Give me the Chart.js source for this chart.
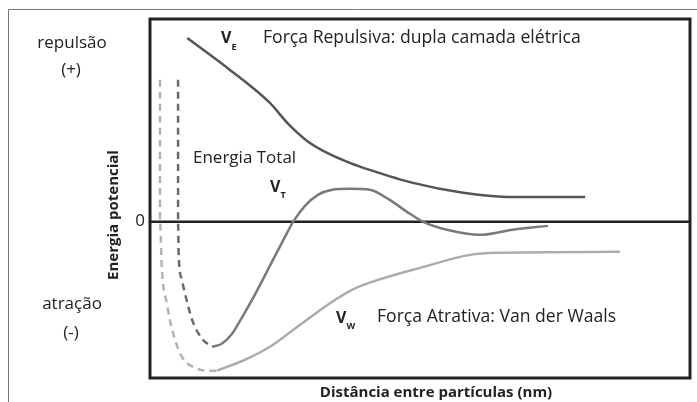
<!DOCTYPE html>
<html lang="pt">
<head>
    <meta charset="UTF-8">
    <script src="https://cdn.jsdelivr.net/npm/chart.js"></script>
    <title>Energia potencial</title>
    <style>
        body { margin: 0; background: #fff; }
        #wrap { width: 697px; height: 402px; }
    </style>
</head>
<body>
    <div id="wrap">
        <canvas id="chart" width="697" height="402"></canvas>
    </div>

    <script>
        // curve data (distance units 0-100, energy units -77..100)
        const veX = [6.9, 14.8, 22.2, 25.6, 29.1, 32.8, 37.0, 40.7, 48.7, 58.0, 66.1, 80.6];
        const veY = [90.6, 74.9, 58.6, 48.3, 39.9, 34.0, 29.1, 25.6, 19.2, 14.3, 12.3, 12.3];

        const vtX = [11.5, 13.3, 15.2, 17.0, 19.4, 22.2, 25.0, 26.5, 28.7, 31.1, 33.7, 37.0, 40.7, 44.4, 47.6, 50.6, 55.0, 61.1, 67.2, 73.7];
        const vtY = [-61.6, -60.1, -55.2, -47.3, -36.0, -21.7, -7.4, 0, 7.9, 13.3, 15.8, 16.3, 15.8, 10.8, 4.9, 0, -3.9, -6.4, -3.9, -2.0];

        const vwX = [12.4, 17.6, 22.2, 26.3, 31.1, 34.3, 37.4, 41.1, 50.0, 59.3, 64.3, 87.0];
        const vwY = [-73.4, -68.0, -61.6, -53.7, -44.3, -38.4, -33.5, -29.6, -22.7, -16.3, -15.3, -14.8];

        // dashed parts close to the particle surface
        const vtDashX = [5.2, 5.2, 5.3, 5.9, 6.9, 8.0, 9.8, 11.5];
        const vtDashY = [70.0, 0, -15.3, -28.6, -39.9, -49.8, -58.1, -61.6];

        const vwDashX = [1.85, 1.85, 2.2, 3.1, 4.1, 5.9, 8.3, 10.7, 12.4];
        const vwDashY = [70.0, 0, -23.6, -39.9, -53.2, -66.5, -71.9, -73.4, -73.4];

        const sideLabels = ["repulsão", "(+)", "atração", "(-)"];
        const zeroTick = "0";

        const toPoints = (xs, ys) => xs.map((x, i) => ({ x: x, y: ys[i] }));

        const FONT = "'Open Sans', sans-serif";

        // frame, zero line and texts
        const decor = {
            id: "decor",
            beforeDatasetsDraw(chart) {
                const ctx = chart.ctx;
                const a = chart.chartArea;
                const y0 = chart.scales.y.getPixelForValue(0);
                ctx.save();
                // outer thin frame
                ctx.strokeStyle = "#777";
                ctx.lineWidth = 1;
                ctx.beginPath();
                ctx.moveTo(8.5, 402);
                ctx.lineTo(8.5, 9.5);
                ctx.lineTo(697, 9.5);
                ctx.stroke();
                // zero line
                ctx.strokeStyle = "#222";
                ctx.lineWidth = 2.5;
                ctx.beginPath();
                ctx.moveTo(a.left, y0);
                ctx.lineTo(a.right, y0);
                ctx.stroke();
                ctx.restore();
            },
            afterDraw(chart) {
                const ctx = chart.ctx;
                const a = chart.chartArea;
                const y0 = chart.scales.y.getPixelForValue(0);
                ctx.save();
                // plot box
                ctx.strokeStyle = "#222";
                ctx.lineWidth = 3;
                ctx.strokeRect(a.left, a.top, a.right - a.left, a.bottom - a.top);

                ctx.fillStyle = "#222";
                ctx.textBaseline = "alphabetic";
                ctx.font = "17px " + FONT;
                ctx.textAlign = "center";
                ctx.fillText(sideLabels[0], 72, 48);
                ctx.fillText(sideLabels[1], 71, 75);
                ctx.fillText(sideLabels[2], 72, 309);
                ctx.fillText(sideLabels[3], 71, 338);

                ctx.textAlign = "right";
                ctx.textBaseline = "middle";
                ctx.fillText(zeroTick, 145, y0 - 1);

                ctx.textBaseline = "alphabetic";
                ctx.textAlign = "left";
                ctx.fillText("Energia Total", 193, 163);
                ctx.font = "17.6px " + FONT;
                ctx.fillText("Força Repulsiva: dupla camada elétrica", 263, 43);
                ctx.fillText("Força Atrativa: Van der Waals", 377, 322);

                // V labels with subscripts
                const vLabel = (x, y, sub, subY) => {
                    ctx.font = "bold 16px " + FONT;
                    ctx.fillText("V", x, y);
                    const w = ctx.measureText("V").width;
                    ctx.font = "bold 9px " + FONT;
                    ctx.fillText(sub, x + w, subY);
                };
                vLabel(221, 43, "E", 50);
                vLabel(270, 192, "T", 198);
                vLabel(336, 323, "W", 329);

                // axis titles
                ctx.font = "bold 15px " + FONT;
                ctx.textAlign = "center";
                ctx.fillText("Distância entre partículas (nm)", 436, 397);
                ctx.translate(114, 215);
                ctx.rotate(-Math.PI / 2);
                ctx.textBaseline = "middle";
                ctx.fillText("Energia potencial", 0, 0);
                ctx.restore();
            }
        };

        const line = (data, color, dash) => ({
            data: data,
            borderColor: color,
            borderWidth: 2.5,
            borderDash: dash || [],
            pointRadius: 0,
            cubicInterpolationMode: "monotone",
            fill: false
        });

        new Chart(document.getElementById("chart").getContext("2d"), {
            type: "line",
            data: {
                datasets: [
                    line(toPoints(vwDashX, vwDashY), "#b4b4b4", [7, 5]),
                    line(toPoints(vtDashX, vtDashY), "#6a6a6a", [7, 5]),
                    line(toPoints(veX, veY), "#555555"),
                    line(toPoints(vtX, vtY), "#7a7a7a"),
                    line(toPoints(vwX, vwY), "#acacac")
                ]
            },
            options: {
                responsive: false,
                animation: false,
                layout: { autoPadding: false, padding: { left: 150, top: 19, right: 7, bottom: 24 } },
                plugins: { legend: { display: false }, tooltip: { enabled: false } },
                scales: {
                    x: { type: "linear", min: 0, max: 100, display: false },
                    y: { type: "linear", min: -77, max: 100, display: false }
                }
            },
            plugins: [decor]
        });
    </script>
</body>
</html>
